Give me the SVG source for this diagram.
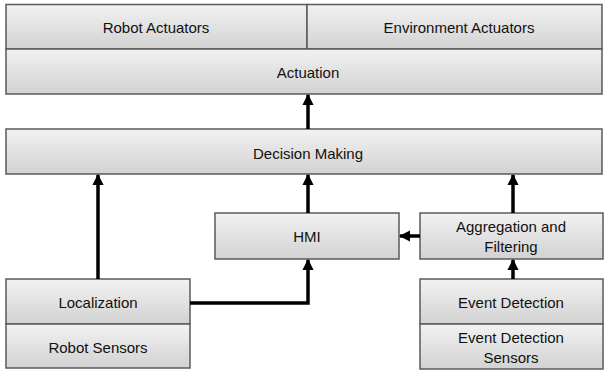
<svg xmlns="http://www.w3.org/2000/svg" width="605" height="371" viewBox="0 0 605 371">
<defs>
<linearGradient id="g" x1="0" y1="0" x2="0" y2="1">
<stop offset="0" stop-color="#f2f2f2"/>
<stop offset="1" stop-color="#d2d2d2"/>
</linearGradient>
<marker id="ah" viewBox="0 0 10 10" refX="9" refY="5" markerWidth="3.2" markerHeight="3.2" orient="auto" markerUnits="strokeWidth">
<path d="M0,0 L10,5 L0,10 z" fill="#000"/>
</marker>
<style>
.b{fill:url(#g);stroke:#5a5a5a;stroke-width:1.5}
.t{font-family:"Liberation Sans",Arial,sans-serif;font-size:15px;fill:#111;text-anchor:middle;dominant-baseline:central}
.c{fill:none;stroke:#000;stroke-width:3.5;marker-end:url(#ah)}
</style>
</defs>
<rect width="605" height="371" fill="#fff"/>
<g id="robot-actuators"><rect class="b" x="6" y="4.5" width="301" height="44.5"/><text class="t" x="156" y="27">Robot Actuators</text></g>
<g id="environment-actuators"><rect class="b" x="307" y="4.5" width="295" height="44.5"/><text class="t" x="459" y="27">Environment Actuators</text></g>
<g id="actuation"><rect class="b" x="6" y="49" width="596" height="45"/><text class="t" x="308" y="72">Actuation</text></g>
<g id="decision-making"><rect class="b" x="6" y="129" width="596" height="45"/><text class="t" x="308" y="153">Decision Making</text></g>
<g id="hmi"><rect class="b" x="215" y="213" width="184" height="46"/><text class="t" x="307" y="236">HMI</text></g>
<g id="aggregation"><rect class="b" x="420" y="213" width="183" height="46"/><text class="t" x="511" y="226">Aggregation and</text><text class="t" x="511" y="246">Filtering</text></g>
<g id="localization"><rect class="b" x="6" y="279" width="184" height="45"/><text class="t" x="98" y="302">Localization</text></g>
<g id="robot-sensors"><rect class="b" x="6" y="324" width="184" height="44"/><text class="t" x="98" y="347">Robot Sensors</text></g>
<g id="event-detection"><rect class="b" x="420" y="279" width="183" height="45"/><text class="t" x="511" y="302">Event Detection</text></g>
<g id="event-detection-sensors"><rect class="b" x="420" y="324" width="183" height="45"/><text class="t" x="511" y="337">Event Detection</text><text class="t" x="511" y="357">Sensors</text></g>
<g id="connectors">
<path class="c" d="M308,129 V95"/>
<path class="c" d="M98,279 V175"/>
<path class="c" d="M308,213 V175"/>
<path class="c" d="M513,213 V175"/>
<path class="c" d="M513,279 V260"/>
<path class="c" d="M420,236 H400"/>
<path class="c" d="M190,303 H308 V260"/>
</g>
</svg>
